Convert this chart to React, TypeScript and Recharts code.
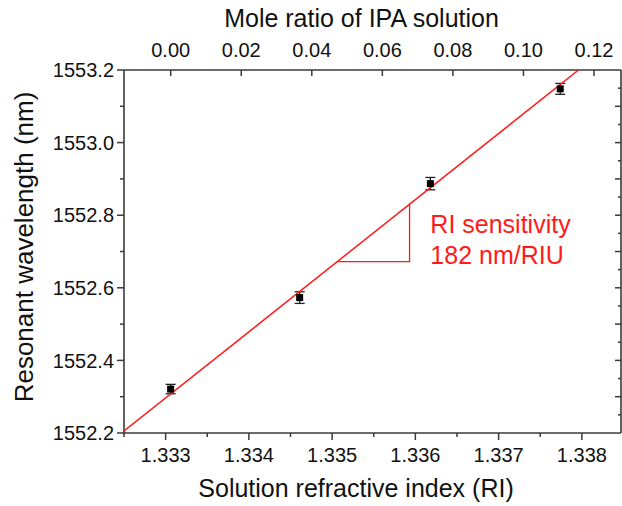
import React from 'react';
import { ComposedChart, Scatter, XAxis, YAxis, ErrorBar, ReferenceDot } from 'recharts';

const refractiveIndex = [1.33306, 1.33461, 1.33618, 1.33774];
const moleRatio = [0.0, 0.037, 0.074, 0.111];
const wavelength = [1552.321, 1552.573, 1552.887, 1553.148];
const wavelengthError = [0.013, 0.016, 0.017, 0.015];

// Linear fit (182 nm/RIU) endpoints
const fitRI = [1.3325, 1.33796];
const fitWavelength = [1552.2055, 1553.2];

// Sensitivity triangle
const triangleRI = [1.33506, 1.33593, 1.33593];
const triangleWavelength = [1552.672, 1552.672, 1552.83];

// Annotation
const annotationLines = ['RI sensitivity', '182 nm/RIU'];
const annotationRI = 1.33618;
const annotationWavelength = 1552.751;

// Axes
const riDomain = [1.3325, 1.33847];
const moleDomain = [-0.01324, 0.12765];
const wlDomain = [1552.2, 1553.2];
const riTicks = [1.3325, 1.333, 1.3335, 1.334, 1.3345, 1.335, 1.3355, 1.336, 1.3365, 1.337, 1.3375, 1.338];
const riMajorTicks = [1.333, 1.334, 1.335, 1.336, 1.337, 1.338];
const moleTicks = [0.0, 0.02, 0.04, 0.06, 0.08, 0.1, 0.12];
const wlTicks = [1552.2, 1552.3, 1552.4, 1552.5, 1552.6, 1552.7, 1552.8, 1552.9, 1553.0, 1553.1, 1553.2];
const wlMajorTicks = [1552.2, 1552.4, 1552.6, 1552.8, 1553.0, 1553.2];
const wlRightTicks = [
  1552.25, 1552.3, 1552.35, 1552.4, 1552.45, 1552.5, 1552.55, 1552.6, 1552.65, 1552.7,
  1552.75, 1552.8, 1552.85, 1552.9, 1552.95, 1553.0, 1553.05, 1553.1, 1553.15,
];

const titleTop = 'Mole ratio of IPA solution';
const titleBottom = 'Solution refractive index (RI)';
const titleLeft = 'Resonant wavelength (nm)';

const FONT = "'Liberation Sans', Arial, sans-serif";
const AXIS = '#3a3a3a';
const TEXT = '#111';
const RED = '#ff1a1a';

const isIn = (v: number, arr: number[]) => arr.some((a) => Math.abs(a - v) < 1e-9);

const points = refractiveIndex.map((x, i) => ({ x, y: wavelength[i], err: wavelengthError[i] }));
const molePoints = moleRatio.map((x, i) => ({ x, y: wavelength[i] }));
const fitData = fitRI.map((x, i) => ({ x, y: fitWavelength[i] }));
const triangleData = triangleRI.map((x, i) => ({ x, y: triangleWavelength[i] }));

const BottomTick = (p: any) => {
  const v = p.payload.value;
  const major = isIn(v, riMajorTicks);
  return (
    <g>
      <line x1={p.x} x2={p.x} y1={p.y} y2={p.y + (major ? 7 : 4)} stroke={AXIS} strokeWidth={1.5} />
      {major && (
        <text x={p.x} y={p.y + 29} textAnchor="middle" fontSize={20} fontFamily={FONT} fill={TEXT}>
          {v.toFixed(3)}
        </text>
      )}
    </g>
  );
};

const TopTick = (p: any) => {
  const v = p.payload.value;
  return (
    <g>
      <line x1={p.x} x2={p.x} y1={p.y} y2={p.y + 6} stroke={AXIS} strokeWidth={1.5} />
      <text x={p.x} y={p.y - 13} textAnchor="middle" fontSize={20} fontFamily={FONT} fill={TEXT}>
        {v.toFixed(2)}
      </text>
    </g>
  );
};

const LeftTick = (p: any) => {
  const v = p.payload.value;
  const major = isIn(v, wlMajorTicks);
  return (
    <g>
      <line x1={p.x - (major ? 7 : 4)} x2={p.x} y1={p.y} y2={p.y} stroke={AXIS} strokeWidth={1.5} />
      {major && (
        <text x={p.x - 10} y={p.y} dy="0.36em" textAnchor="end" fontSize={20} fontFamily={FONT} fill={TEXT}>
          {v.toFixed(1)}
        </text>
      )}
    </g>
  );
};

const RightTick = (p: any) => {
  const v = p.payload.value;
  const major = isIn(v, wlTicks);
  return <line x1={p.x - (major ? 6 : 3)} x2={p.x} y1={p.y} y2={p.y} stroke={AXIS} strokeWidth={1.5} />;
};

const Square = (p: any) => (
  <rect x={p.cx - 3.5} y={p.cy - 3.5} width={7} height={7} fill="#000" />
);

const Nothing = () => <g />;

const Annotation = (p: any) => (
  <text x={p.cx} y={p.cy} fontSize={25} fontFamily={FONT} fill={RED}>
    {annotationLines.map((t, i) => (
      <tspan key={i} x={p.cx} dy={i === 0 ? 0 : 31}>
        {t}
      </tspan>
    ))}
  </text>
);

export default function App() {
  return (
    <div style={{ position: 'absolute', left: 0, top: 0, width: 622, height: 506, background: '#fff' }}>
      <ComposedChart width={622} height={506} margin={{ top: 0, right: 0, bottom: 0, left: 0 }}>
        <XAxis
          xAxisId="ri"
          type="number"
          dataKey="x"
          domain={riDomain}
          ticks={riTicks}
          interval={0}
          allowDataOverflow
          height={73}
          tickSize={0}
          tickMargin={0}
          tickLine={false}
          axisLine={{ stroke: AXIS, strokeWidth: 1.6 }}
          tick={BottomTick}
        />
        <XAxis
          xAxisId="mole"
          orientation="top"
          type="number"
          dataKey="x"
          domain={moleDomain}
          ticks={moleTicks}
          interval={0}
          allowDataOverflow
          height={70}
          tickSize={0}
          tickMargin={0}
          tickLine={false}
          axisLine={{ stroke: AXIS, strokeWidth: 1.6 }}
          tick={TopTick}
        />
        <YAxis
          yAxisId="wl"
          type="number"
          dataKey="y"
          domain={wlDomain}
          ticks={wlTicks}
          interval={0}
          allowDataOverflow
          width={124}
          tickSize={0}
          tickMargin={0}
          tickLine={false}
          axisLine={{ stroke: AXIS, strokeWidth: 1.6 }}
          tick={LeftTick}
        />
        <YAxis
          yAxisId="wr"
          orientation="right"
          type="number"
          dataKey="y"
          domain={wlDomain}
          ticks={wlRightTicks}
          interval={0}
          allowDataOverflow
          width={1}
          tickSize={0}
          tickMargin={0}
          tickLine={false}
          axisLine={{ stroke: AXIS, strokeWidth: 1.6 }}
          tick={RightTick}
        />
        <Scatter
          xAxisId="mole"
          yAxisId="wr"
          data={molePoints}
          dataKey="y"
          shape={Nothing}
          isAnimationActive={false}
        />
        <Scatter
          xAxisId="ri"
          yAxisId="wl"
          data={fitData}
          dataKey="y"
          line={{ stroke: RED, strokeWidth: 1.5 }}
          shape={Nothing}
          isAnimationActive={false}
        />
        <Scatter
          xAxisId="ri"
          yAxisId="wl"
          data={triangleData}
          dataKey="y"
          line={{ stroke: RED, strokeWidth: 1.3 }}
          shape={Nothing}
          isAnimationActive={false}
        />
        <Scatter
          xAxisId="ri"
          yAxisId="wl"
          data={points}
          dataKey="y"
          shape={Square}
          isAnimationActive={false}
        >
          <ErrorBar dataKey="err" direction="y" width={5} stroke="#222" strokeWidth={1.3} isAnimationActive={false} />
        </Scatter>
        <ReferenceDot
          xAxisId="ri"
          yAxisId="wl"
          x={annotationRI}
          y={annotationWavelength}
          r={0}
          ifOverflow="visible"
          shape={Annotation}
        />
      </ComposedChart>
      <svg
        width={622}
        height={506}
        style={{ position: 'absolute', left: 0, top: 0, pointerEvents: 'none' }}
      >
        <text x={361.5} y={27} textAnchor="middle" fontSize={25} fontFamily={FONT} fill={TEXT}>
          {titleTop}
        </text>
        <text x={356} y={497} textAnchor="middle" fontSize={25} fontFamily={FONT} fill={TEXT}>
          {titleBottom}
        </text>
        <text
          transform="translate(33, 247) rotate(-90)"
          textAnchor="middle"
          fontSize={26}
          fontFamily={FONT}
          fill={TEXT}
        >
          {titleLeft}
        </text>
      </svg>
    </div>
  );
}
